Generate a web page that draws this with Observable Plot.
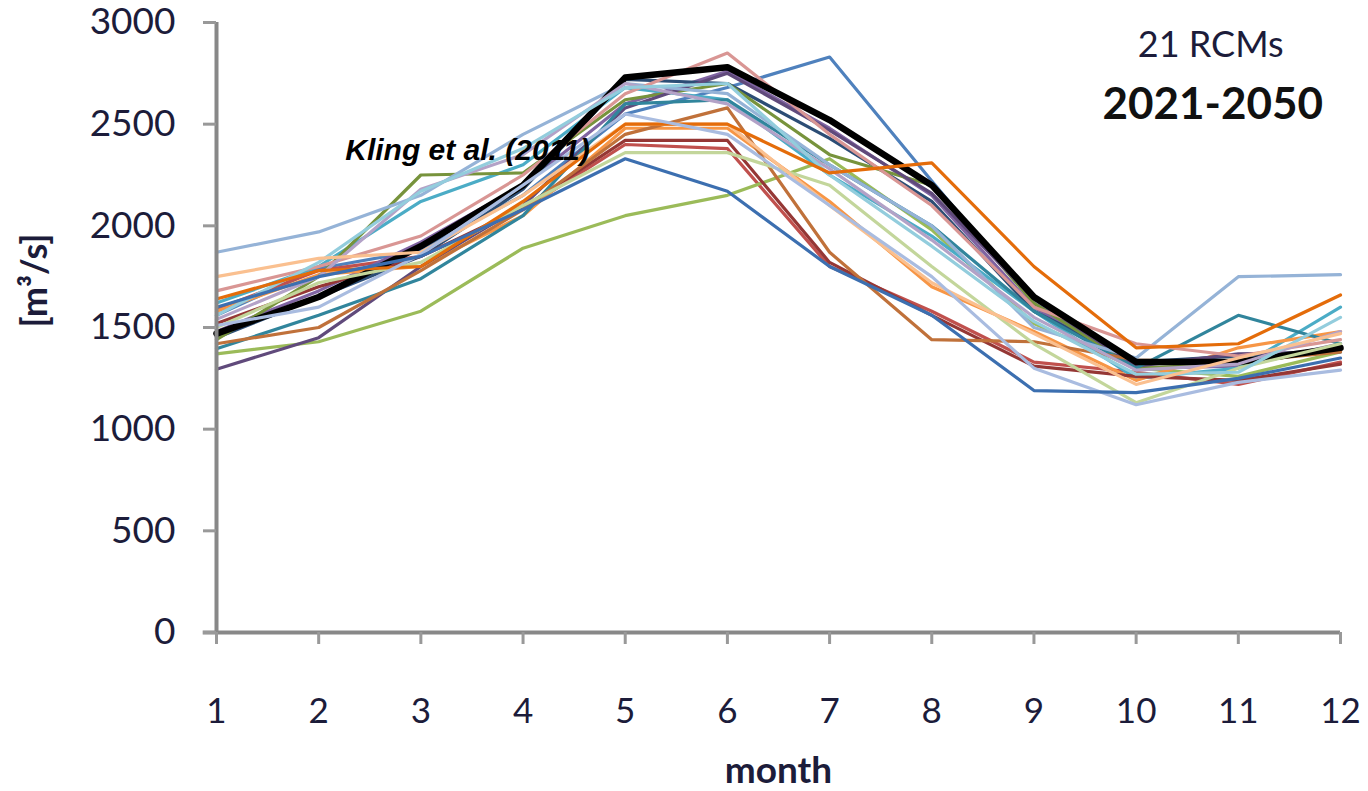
<!DOCTYPE html>
<html>
<head>
<meta charset="utf-8">
<script src="https://cdn.jsdelivr.net/npm/d3@7"></script>
<script src="https://cdn.jsdelivr.net/npm/@observablehq/plot@0.6"></script>
<style>
  html, body { margin: 0; padding: 0; background: #fff; }
  #chart { width: 1368px; height: 791px; }
</style>
</head>
<body>
<div id="chart"></div>
<script>
// months on the x axis
const months = [1, 2, 3, 4, 5, 6, 7, 8, 9, 10, 11, 12];
const yTicks = [0, 500, 1000, 1500, 2000, 2500, 3000];

// Kling et al. (2011) reference series (black, thick)
const kling = [1470, 1650, 1900, 2200, 2730, 2780, 2520, 2200, 1650, 1330, 1330, 1400];

// 21 RCM series (monthly mean discharge, m3/s)
const rcm01 = [1560, 1790, 1880, 2150, 2550, 2680, 2830, 2220, 1620, 1320, 1340, 1400];
const rcm02 = [1590, 1780, 1850, 2080, 2400, 2380, 1800, 1580, 1330, 1280, 1220, 1330];
const rcm03 = [1370, 1430, 1580, 1890, 2050, 2150, 2330, 1980, 1520, 1300, 1260, 1380];
const rcm04 = [1480, 1680, 1920, 2200, 2600, 2760, 2480, 2150, 1600, 1300, 1310, 1420];
const rcm05 = [1620, 1800, 2120, 2300, 2680, 2620, 2250, 1950, 1580, 1250, 1300, 1600];
const rcm06 = [1580, 1760, 1800, 2050, 2480, 2480, 2120, 1700, 1480, 1240, 1400, 1480];
const rcm07 = [1450, 1650, 1850, 2180, 2720, 2700, 2430, 2120, 1580, 1330, 1360, 1390];
const rcm08 = [1520, 1700, 1850, 2090, 2420, 2420, 1820, 1560, 1310, 1260, 1240, 1320];
const rcm09 = [1440, 1750, 2250, 2260, 2620, 2700, 2350, 2200, 1620, 1300, 1320, 1410];
const rcm10 = [1295, 1450, 1800, 2100, 2580, 2750, 2470, 2160, 1640, 1310, 1370, 1380];
const rcm11 = [1395, 1560, 1740, 2050, 2600, 2620, 2300, 2000, 1580, 1300, 1560, 1420];
const rcm12 = [1420, 1500, 1780, 2080, 2450, 2580, 1870, 1440, 1430, 1340, 1330, 1380];
const rcm13 = [1870, 1970, 2150, 2450, 2700, 2650, 2300, 2000, 1500, 1350, 1750, 1760];
const rcm14 = [1680, 1800, 1950, 2250, 2650, 2850, 2450, 2100, 1600, 1420, 1360, 1440];
const rcm15 = [1500, 1720, 1820, 2100, 2360, 2360, 2200, 1800, 1420, 1130, 1300, 1420];
const rcm16 = [1540, 1750, 2180, 2350, 2700, 2600, 2280, 1930, 1550, 1290, 1320, 1480];
const rcm17 = [1560, 1820, 2170, 2380, 2680, 2700, 2250, 1900, 1530, 1270, 1280, 1550];
const rcm18 = [1750, 1840, 1870, 2150, 2500, 2500, 2100, 1720, 1470, 1220, 1350, 1470];
const rcm19 = [1640, 1780, 1800, 2120, 2500, 2500, 2260, 2310, 1800, 1400, 1420, 1660];
const rcm20 = [1510, 1600, 1860, 2200, 2550, 2450, 2100, 1750, 1300, 1120, 1230, 1290];
const rcm21 = [1600, 1750, 1850, 2080, 2330, 2170, 1800, 1560, 1190, 1180, 1250, 1350];

const rcmSeries = [rcm01, rcm02, rcm03, rcm04, rcm05, rcm06, rcm07, rcm08, rcm09, rcm10, rcm11,
                   rcm12, rcm13, rcm14, rcm15, rcm16, rcm17, rcm18, rcm19, rcm20, rcm21];
const rcmNames = rcmSeries.map((_, i) => "RCM " + (i + 1));
const rcmColors = ["#4F81BD", "#C0504D", "#9BBB59", "#8064A2", "#4BACC6", "#F79646",
                   "#2C4D75", "#953735", "#77933C", "#604A7B", "#31859C", "#C0713A",
                   "#95B3D7", "#D99694", "#C3D69B", "#B3A2C7", "#93CDDD", "#FAC090",
                   "#E46C0A", "#A9BCE0", "#3C6FB0"];

// tidy tables
const rcmRows = rcmSeries.flatMap((vals, i) =>
  vals.map((v, j) => ({series: rcmNames[i], month: months[j], q: v})));
const klingRows = kling.map((v, j) => ({series: "Kling et al. (2011)", month: months[j], q: v}));

const firstNames = rcmNames.slice(0, 14);
const lastNames = rcmNames.slice(14);

const chart = Plot.plot({
  width: 1368,
  height: 791,
  marginLeft: 216,
  marginRight: 28,
  marginTop: 22,
  marginBottom: 159,
  style: {fontFamily: "Lato, 'Open Sans', sans-serif", background: "#fff", overflow: "visible"},
  x: {domain: [1, 12]},
  y: {domain: [0, 3000]},
  color: {domain: rcmNames, range: rcmColors},
  marks: [
    Plot.lineY(rcmRows.filter(d => firstNames.includes(d.series)),
      {x: "month", y: "q", z: "series", stroke: "series", strokeWidth: 3.2}),
    Plot.lineY(klingRows, {x: "month", y: "q", stroke: "#000", strokeWidth: 6.5}),
    Plot.lineY(rcmRows.filter(d => lastNames.includes(d.series)),
      {x: "month", y: "q", z: "series", stroke: "series", strokeWidth: 3.2}),
    Plot.ruleX([1], {stroke: "#888", strokeWidth: 4}),
    Plot.ruleY([0], {stroke: "#888", strokeWidth: 4, x1: 0.87, x2: 12}),
    Plot.axisY({ticks: yTicks, tickSize: 13, tickPadding: 28, fontSize: 37,
      stroke: "#999", strokeWidth: 3, fill: "#1c1c3a", label: null, tickFormat: d => String(d)}),
    Plot.axisX({ticks: months, tickSize: 12, tickPadding: 54, fontSize: 35,
      stroke: "#999", strokeWidth: 3, fill: "#1c1c3a", label: null, tickFormat: d => String(d)}),
    Plot.text(["month"], {frameAnchor: "bottom", dy: 150, fontSize: 37, fontWeight: "bold", fill: "#1c1c3a"}),
    Plot.text(["[m³/s]"], {frameAnchor: "left", dx: -181, rotate: -90, fontSize: 36, fontWeight: "bold", fill: "#1c1c3a"}),
    Plot.text(["Kling et al. (2011)"], {x: 2.26, y: 2370, textAnchor: "start", fontSize: 30,
      fontWeight: "bold", fontStyle: "italic", fontFamily: "'Liberation Sans', Arial, sans-serif", fill: "#000"}),
    Plot.text(["21 RCMs"], {x: 10.73, y: 2887, fontSize: 36, fill: "#1c1c3a"}),
    Plot.text(["2021-2050"], {x: 10.75, y: 2597, fontSize: 44, fontWeight: "bold", fill: "#111"})
  ]
});
document.getElementById("chart").appendChild(chart);
</script>
</body>
</html>
